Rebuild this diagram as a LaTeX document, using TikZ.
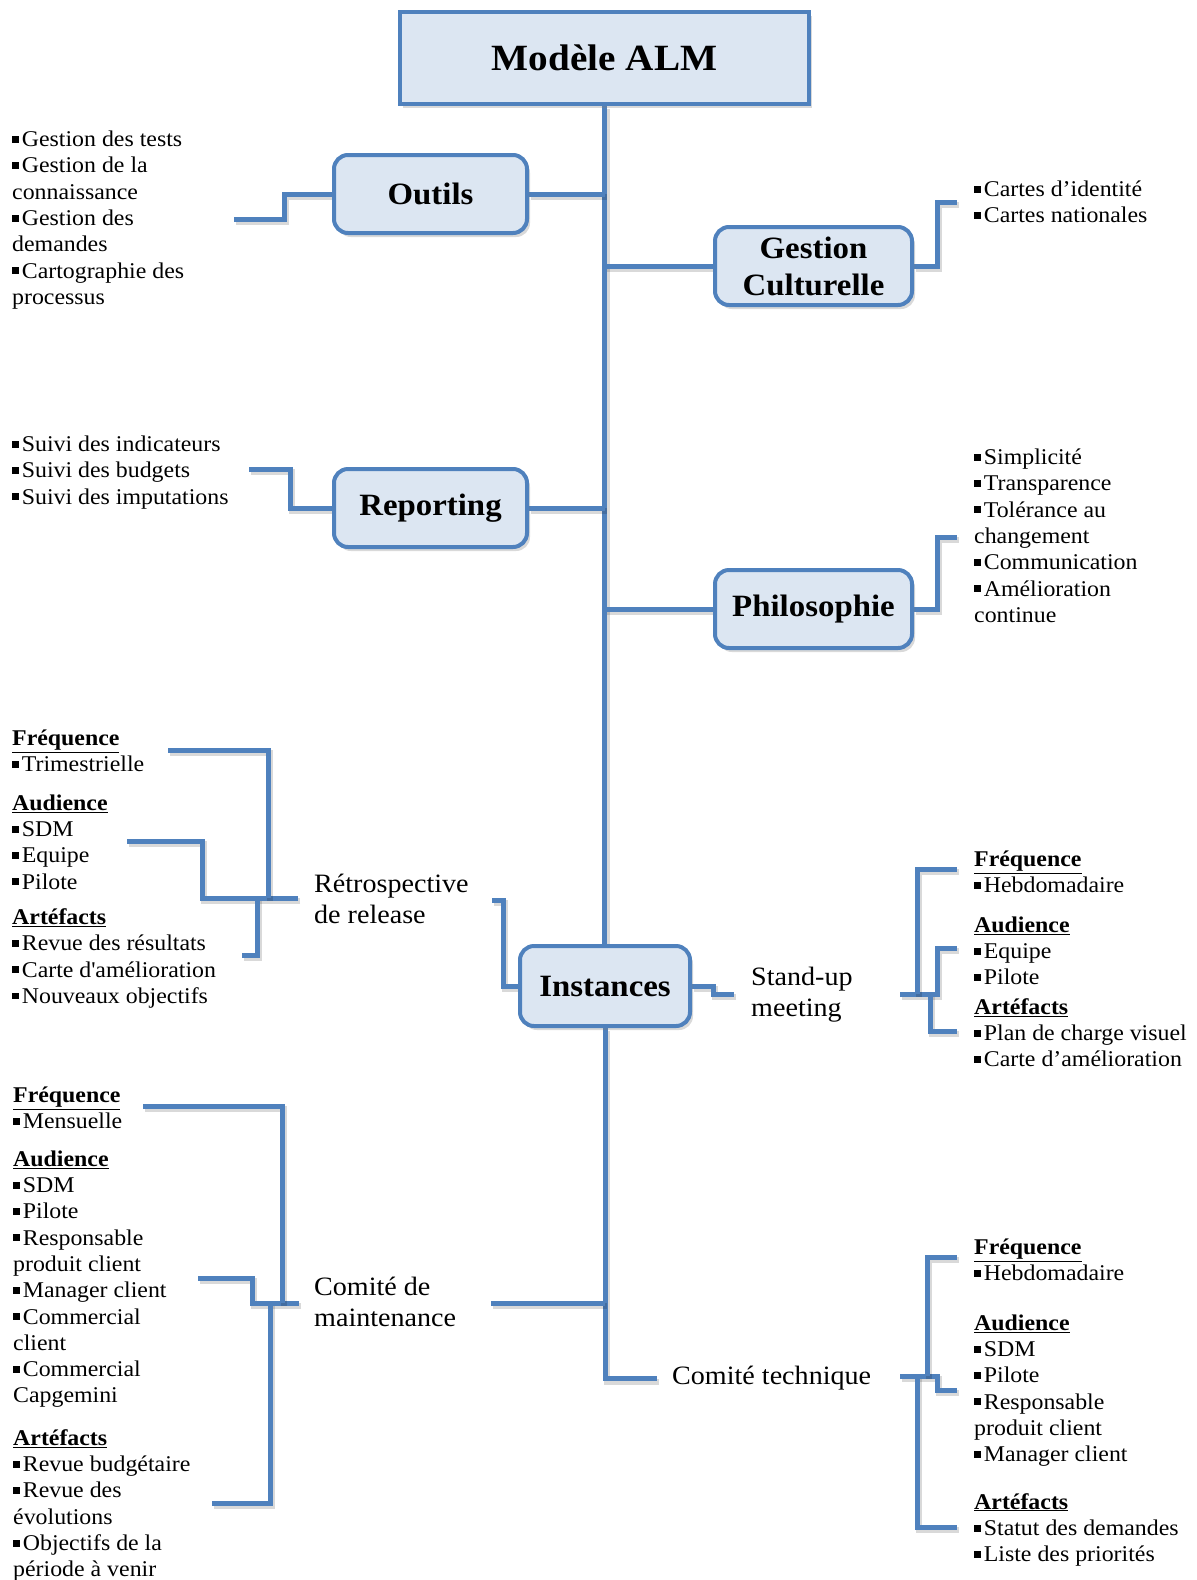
\documentclass[tikz,border=0pt]{standalone}
\usepackage{fontspec}
\setmainfont{Liberation Serif}[FakeStretch=1.06]
\usetikzlibrary{shadows,backgrounds}

\definecolor{almblue}{HTML}{4F81BD}
\definecolor{almfill}{HTML}{DCE6F2}

\newcommand\sq{\rule[0.17em]{0.31em}{0.31em}\hspace{0.12em}}
\newcommand\hd[1]{\underline{\textbf{#1}}}

\tikzset{
  box/.style={draw=almblue, line width=4pt, fill=almfill, rounded corners=14pt,
    minimum width=193pt, minimum height=78pt, inner sep=2pt, align=center,
    font=\fontsize{31}{37}\selectfont\bfseries,
    drop shadow={shadow xshift=3pt, shadow yshift=-4pt, opacity=0.3}},
  titlebox/.style={box, sharp corners, minimum width=409pt, minimum height=92pt,
    font=\fontsize{37}{44}\selectfont\bfseries},
  link/.style={draw=almblue, line width=5pt,
    preaction={draw=black, opacity=0.15, line width=6pt,
      transform canvas={shift={(2pt,-3pt)}}}},
  lbl/.style={anchor=north west, inner sep=0pt, align=left,
    font=\fontsize{26.5}{31}\selectfont},
  lst/.style={anchor=north west, inner sep=0pt, align=left,
    font=\fontsize{22.5}{26.3}\selectfont},
}

\begin{document}
\begin{tikzpicture}[x=1pt, y=-1pt]
    \useasboundingbox (0,0) rectangle (1197,1580);

    % Main boxes
    \node[titlebox] (alm) at (604.5,58) {Modèle ALM};
    \node[box] (outils) at (430.5,194) {Outils};
    \node[box, minimum width=197pt] (culture) at (813.5,266) {Gestion\\Culturelle};
    \node[box] (reporting) at (430.5,508) {Reporting};
    \node[box, minimum width=197pt] (philo) at (813.5,609) {Philosophie};
    \node[box, minimum width=170pt, minimum height=80pt] (instances) at (605,986) {Instances};

    % Instances
    \node[lbl] (retro) at (314,871) {\strut Rétrospective\\ de release};
    \node[lbl] (standup) at (751,964) {\strut Stand-up\\ meeting};
    \node[lbl] (maint) at (314,1274) {\strut Comité de\\ maintenance};
    \node[lbl] (techn) at (672,1363) {\strut Comité technique};

    % Lists
    \node[lst] (outilsList) at (12,128) {\strut\sq Gestion des tests\\ \sq Gestion de la\\ connaissance\\
        \sq Gestion des\\ demandes\\ \sq Cartographie des\\ processus};
    \node[lst] (cultureList) at (974,178) {\strut\sq Cartes d’identité\\ \sq Cartes nationales};
    \node[lst] (reportList) at (12,433) {\strut\sq Suivi des indicateurs\\ \sq Suivi des budgets\\
        \sq Suivi des imputations};
    \node[lst] (philoList) at (974,446) {\strut\sq Simplicité\\ \sq Transparence\\ \sq Tolérance au\\
        changement\\ \sq Communication\\ \sq Amélioration\\ continue};
    \node[lst] (retroList) at (12,727) {\strut\hd{Fréquence}\\ \sq Trimestrielle\\[12pt]
        \hd{Audience}\\ \sq SDM\\ \sq Equipe\\ \sq Pilote\\[9pt]
        \hd{Artéfacts}\\ \sq Revue des résultats\\ \sq Carte d\textquotesingle amélioration\\
        \sq Nouveaux objectifs};
    \node[lst] (standupList) at (974,848) {\strut\hd{Fréquence}\\ \sq Hebdomadaire\\[13pt]
        \hd{Audience}\\ \sq Equipe\\ \sq Pilote\\[3pt]
        \hd{Artéfacts}\\ \sq Plan de charge visuel\\ \sq Carte d’amélioration};
    \node[lst] (maintList) at (13,1084) {\strut\hd{Fréquence}\\ \sq Mensuelle\\[11pt]
        \hd{Audience}\\ \sq SDM\\ \sq Pilote\\ \sq Responsable\\ produit client\\
        \sq Manager client\\ \sq Commercial\\ client\\ \sq Commercial\\ Capgemini\\[16pt]
        \hd{Artéfacts}\\ \sq Revue budgétaire\\ \sq Revue des\\ évolutions\\
        \sq Objectifs de la\\ période à venir};
    \node[lst] (technList) at (974,1236) {\strut\hd{Fréquence}\\ \sq Hebdomadaire\\[23pt]
        \hd{Audience}\\ \sq SDM\\ \sq Pilote\\ \sq Responsable\\ produit client\\
        \sq Manager client\\[21pt]
        \hd{Artéfacts}\\ \sq Statut des demandes\\ \sq Liste des priorités};

    % Free ends of the connectors
    \coordinate (oEnd) at (234,219);
    \coordinate (cEnd) at (957,202);
    \coordinate (rEnd) at (249,469);
    \coordinate (pEnd) at (957,537);
    \coordinate (retroIn) at (492,900);
    \coordinate (standIn) at (734,994);
    \coordinate (maintIn) at (491,1303);
    \coordinate (retroOut) at (298,898);
    \coordinate (ra) at (127,841);
    \coordinate (rf) at (168,750);
    \coordinate (rr) at (242,955);
    \coordinate (standOut) at (900,994);
    \coordinate (sf) at (957,869);
    \coordinate (sa) at (957,948);
    \coordinate (sr) at (957,1031);
    \coordinate (maintOut) at (299,1303);
    \coordinate (mf) at (143,1106);
    \coordinate (ma) at (198,1278);
    \coordinate (mr) at (212,1503);
    \coordinate (techOut) at (900,1376);
    \coordinate (tf) at (957,1257);
    \coordinate (ta) at (957,1390);
    \coordinate (tr) at (957,1527);

    \begin{scope}[on background layer]
    % Main trunk
    \draw[link] (alm.south) -- (alm.south |- instances.north);
    \draw[link] (instances.south) |- ([xshift=-15pt]techn.west);
    \draw[link] (outils.east) -- (outils.east -| alm.south);
    \draw[link] (reporting.east) -- (reporting.east -| alm.south);
    \draw[link] (culture.west) -- (culture.west -| alm.south);
    \draw[link] (philo.west) -- (philo.west -| alm.south);
    \draw[link] (maintIn) -- (maintIn -| alm.south);

    % Boxes to their lists
    \draw[link] (outils.west) -- ++(-48,0) |- (oEnd);
    \draw[link] (reporting.west) -- ++(-42,0) |- (rEnd);
    \draw[link] (culture.east) -- ++(23,0) |- (cEnd);
    \draw[link] (philo.east) -- ++(23,0) |- (pEnd);

    % Instances to meetings
    \draw[link] (instances.west) -- ++(-15,0) |- (retroIn);
    \draw[link] (instances.east) -- ++(21,0) |- (standIn);

    % Retrospective bracket
    \draw[link] (retroOut) -| ([xshift=75pt]ra) -- (ra);
    \draw[link] ([xshift=-30pt]retroOut) |- (rf);
    \draw[link] ([xshift=-41pt]retroOut) |- (rr);

    % Stand-up bracket
    \draw[link] (standOut) -| ([xshift=-20pt]sa) -- (sa);
    \draw[link] ([xshift=17pt]standOut) |- (sf);
    \draw[link] ([xshift=30pt]standOut) |- (sr);

    % Maintenance bracket
    \draw[link] (maintOut) -| ([xshift=54pt]ma) -- (ma);
    \draw[link] ([xshift=-17pt]maintOut) |- (mf);
    \draw[link] ([xshift=-29pt]maintOut) |- (mr);

    % Technical bracket
    \draw[link] (techOut) -| ([xshift=-20pt]ta) -- (ta);
    \draw[link] ([xshift=27pt]techOut) |- (tf);
    \draw[link] ([xshift=17pt]techOut) |- (tr);
    \end{scope}
\end{tikzpicture}
\end{document}
